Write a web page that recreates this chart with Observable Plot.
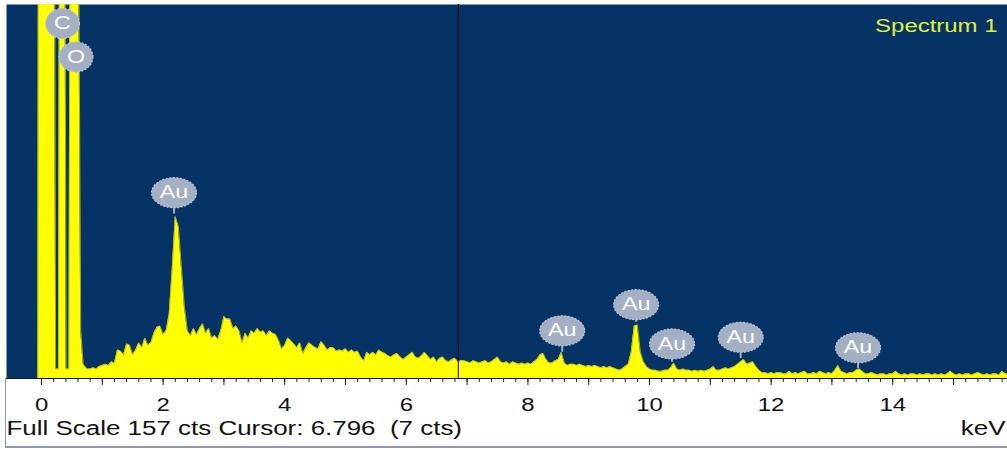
<!DOCTYPE html>
<html><head><meta charset="utf-8">
<script src="https://cdn.jsdelivr.net/npm/d3@7"></script>
<script src="https://cdn.jsdelivr.net/npm/@observablehq/plot@0.6"></script>
<style>
html,body{margin:0;padding:0;background:#fff;}
#wrap{position:relative;width:1007px;height:450px;overflow:hidden;}
#border{position:absolute;left:5px;top:378px;width:1002px;height:70px;border-left:1px solid #8d98aa;border-bottom:2px solid #8d98aa;box-sizing:border-box;pointer-events:none;}
</style></head><body>
<div id="wrap"><div id="border"></div></div>
<script>
// ---- data ----
const spectrumName = "Spectrum 1";
const fullScaleText = "Full Scale 157 cts Cursor: 6.796\u00a0 (7 cts)";
const unitLabel = "keV";
const fullScale = 157;
const cursorLineKev = 6.855;

// low-energy region (noise peak, C, O) as [keV, counts]
const lowEnergy = [
  [-0.06, 0], [-0.035, 600], [0.205, 300], [0.232, 4], [0.278, 4], [0.305, 300],
  [0.375, 300], [0.405, 4], [0.45, 4], [0.48, 300], [0.585, 300], [0.645, 20], [0.685, 6]
];
// channels from 0.75 keV, 0.05 keV wide
const channelStart = 0.75, channelWidth = 0.05;
const counts = [
  4, 4, 4.5, 4, 5,
  5.5, 6, 5.5, 7, 6.5, 12, 11.5, 10, 14.5, 14, 10, 12, 15, 13, 17, 14, 15, 19, 21.5, 22,
  18.5, 20, 27, 46, 68, 64, 47, 30, 20, 18, 21, 18.5, 21, 23, 19, 21, 17, 18, 16.5, 20,
  26, 25, 25, 21, 22, 20, 15, 19, 17, 20, 19, 21, 19.5, 20, 18, 20, 19, 18.5, 16, 12.5,
  14, 17, 16, 14.5, 13, 15, 10.5, 13, 15, 14, 13, 12.5, 15.5, 14, 12, 13, 13, 11.5, 12, 11.5,
  12.5, 11, 12, 11, 11.5, 9, 7.5, 11, 10, 11, 10, 12, 11, 10.5, 9.5, 9, 10, 10.5, 9, 8,
  9, 10, 11, 9, 8.5, 9.5, 11, 9.5, 8, 9, 7, 8.5, 9, 7.5, 7, 8, 8.5, 7, 7.5, 7.5,
  7, 6.5, 7.5, 7, 6.5, 7, 7.5, 6.5, 7, 8, 9, 7, 6.5, 7, 6, 7, 6.5, 6, 6.5, 6,
  6.5, 6, 7, 8, 10, 10.5, 8, 6.5, 6.5, 7.5, 8, 11, 6.5, 5.5, 6, 6, 5.5, 6, 5.5, 5,
  5.5, 5, 5.5, 5, 4.5, 5, 4.5, 5, 4.5, 4, 3.5, 4, 5, 6, 11, 22, 22.5, 11, 7, 5,
  4, 3.5, 3.5, 3, 3, 3.5, 3.5, 4.5, 6.5, 4, 3.5, 4, 3.5, 3.5, 3, 3.5, 3, 3.5, 3, 3.5,
  4, 5, 3.5, 3.5, 4, 4.5, 4, 4.5, 5, 6, 7, 8, 6, 6.5, 7, 5, 3.5, 2.5, 2.5, 2,
  2.5, 2, 2.5, 2.5, 2, 2, 3, 2, 2.5, 2, 2.5, 3, 2, 2, 2.5, 2, 3, 2.5, 2, 2.5,
  2, 3.5, 5.5, 3, 2.5, 2, 2.5, 2.5, 3.5, 4, 3, 2, 2, 2.5, 2, 1.5, 2, 2, 1.5, 2,
  2, 3, 2, 1.5, 2, 1.5, 2, 2, 1.5, 2, 1.5, 2, 2, 1.5, 2, 1.5, 2, 1.5, 2, 3,
  2, 1.5, 2, 1.5, 2, 2, 1.5, 2, 2.5, 2, 1.5, 2, 1.5, 2, 2, 1.5, 3, 2, 2
];

// peak labels
const peakLabels = ["C", "O", "Au", "Au", "Au", "Au", "Au", "Au"];
const peakKev    = [0.345, 0.567, 2.18, 8.564, 9.78, 10.37, 11.5, 13.43];
const labelCts   = [149, 135, 78, 20, 31, 14.5, 17.3, 12.9];
const stemCts    = [149, 128, 69, 11, 23.6, 6.8, 8.4, 4.1];

const labelTicks = [0, 2, 4, 6, 8, 10, 12, 14];
const majorTicks = d3.range(0, 16, 1);
const minorTicks = d3.range(0, 15.9, 0.2);

// ---- tables ----
const spectrum = lowEnergy.map(([kev, cts]) => ({kev, cts}))
  .concat(counts.map((cts, i) => ({kev: channelStart + i * channelWidth, cts})));
const labels = peakLabels.map((label, i) => ({label, kev: peakKev[i], y: labelCts[i], stem: stemCts[i]}));

const bubbleFill = "#a5afc4";
function ellipse(aspect) {
  return {draw(ctx, size) {
    const ry = Math.sqrt(size / Math.PI), rx = ry * aspect, k = 0.5523;
    ctx.moveTo(rx, 0);
    ctx.bezierCurveTo(rx, k * ry, k * rx, ry, 0, ry);
    ctx.bezierCurveTo(-k * rx, ry, -rx, k * ry, -rx, 0);
    ctx.bezierCurveTo(-rx, -k * ry, -k * rx, -ry, 0, -ry);
    ctx.bezierCurveTo(k * rx, -ry, rx, -k * ry, rx, 0);
    ctx.closePath();
  }};
}

const chart = Plot.plot({
  width: 1007, height: 450,
  marginTop: 4, marginRight: 0, marginBottom: 72, marginLeft: 6,
  x: {domain: [-0.576, 15.888]},
  y: {domain: [0, fullScale], axis: null},
  style: {fontFamily: "'Liberation Sans', Arial, sans-serif", fontSize: "18px", color: "#111", background: "#fff"},
  marks: [
    Plot.frame({fill: "#053366"}),
    Plot.areaY(spectrum, {x: "kev", y: "cts", fill: "#ffff00", clip: true}),
    Plot.lineY(spectrum, {x: "kev", y: "cts", stroke: "#b8b82a", strokeWidth: 0.9, clip: true}),
    Plot.ruleX([cursorLineKev], {stroke: "#080808", strokeWidth: 1}),
    Plot.ruleX(labels, {x: "kev", y1: "stem", y2: "y", stroke: bubbleFill, strokeWidth: 2}),
    Plot.dot(labels.filter(d => d.label === "Au"), {x: "kev", y: "y", r: 15, symbol: ellipse(1.5), fill: bubbleFill, stroke: "#bcc4d4", strokeWidth: 1.2, strokeDasharray: "2 1.5"}),
    Plot.dot(labels.filter(d => d.label !== "Au"), {x: "kev", y: "y", r: 15, symbol: ellipse(1.13), fill: bubbleFill, stroke: "#bcc4d4", strokeWidth: 1.2, strokeDasharray: "2 1.5"}),
    Plot.text(labels, {x: "kev", y: "y", text: "label", fill: "#ffffff", fontSize: 17.5}),
    Plot.ruleY([0], {stroke: "#111", strokeWidth: 1}),
    Plot.axisX({ticks: minorTicks, tickSize: 4, tickFormat: () => "", label: null, stroke: "#222"}),
    Plot.axisX({ticks: majorTicks, tickSize: 7, tickFormat: () => "", label: null, stroke: "#222"}),
    Plot.axisX({ticks: labelTicks, tickSize: 0, tickPadding: 20, label: null, fontSize: 18}),
    Plot.text([spectrumName], {text: d => d, frameAnchor: "top-right", textAnchor: "end", dx: -10, dy: 14.5, fill: "#e2ee3c", fontSize: 18}),
    Plot.text([fullScaleText], {text: d => d, frameAnchor: "bottom-left", textAnchor: "start", dy: 56, fill: "#111", fontSize: 19.5}),
    Plot.text([unitLabel], {text: d => d, frameAnchor: "bottom-right", textAnchor: "end", dx: -2, dy: 56, fill: "#111", fontSize: 19.5})
  ]
});

const wrap = document.getElementById("wrap");
wrap.prepend(chart);
// the original screenshot is horizontally stretched: widen the glyphs
const stretch = 1.33;
chart.querySelectorAll("text").forEach(t => {
  const w = t.getComputedTextLength();
  if (w > 0) {
    t.setAttribute("textLength", (w * stretch).toFixed(1));
    t.setAttribute("lengthAdjust", "spacingAndGlyphs");
  }
});
</script>
</body></html>
